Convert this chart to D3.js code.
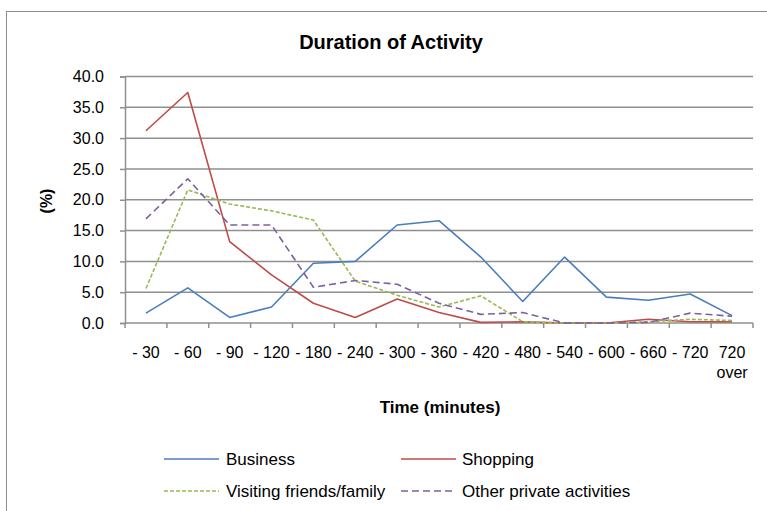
<!DOCTYPE html>
<html>
<head>
<meta charset="utf-8">
<script src="https://cdn.jsdelivr.net/npm/d3@7"></script>
<style>
  html, body { margin: 0; padding: 0; background: #fff; }
  svg { display: block; font-family: "Liberation Sans", Arial, sans-serif; }
</style>
</head>
<body>
<svg id="chart" width="767" height="511"></svg>
<script>
// Duration bands (minutes)
const categories = ["- 30", "- 60", "- 90", "- 120", "- 180", "- 240", "- 300", "- 360", "- 420", "- 480", "- 540", "- 600", "- 660", "- 720", "720\nover"];

// Share of trips (%) in each duration band
const business = [1.6, 5.7, 0.9, 2.6, 9.7, 10.0, 15.9, 16.6, 10.7, 3.5, 10.7, 4.2, 3.7, 4.7, 1.2];
const shopping = [31.2, 37.4, 13.2, 7.8, 3.2, 0.9, 3.9, 1.7, 0.1, 0.2, 0.0, 0.0, 0.6, 0.2, 0.2];
const visiting = [5.6, 21.6, 19.3, 18.2, 16.7, 6.8, 4.5, 2.6, 4.4, 0.2, 0.0, 0.0, 0.2, 0.6, 0.4];
const otherPrivate = [16.9, 23.4, 15.9, 15.9, 5.8, 6.9, 6.3, 3.2, 1.4, 1.7, 0.0, 0.0, 0.1, 1.6, 1.1];

const yTicks = [0, 5, 10, 15, 20, 25, 30, 35, 40];

const seriesList = [
  { name: "Business", values: business, color: "#4a7ebb", dash: null },
  { name: "Shopping", values: shopping, color: "#be4b48", dash: null },
  { name: "Visiting friends/family", values: visiting, color: "#98b954", dash: "4,2" },
  { name: "Other private activities", values: otherPrivate, color: "#7d60a0", dash: "7,4" }
];

const svg = d3.select("#chart");
const plot = { left: 125, right: 753, top: 76.5, bottom: 323 };

// Outer frame
svg.append("rect")
  .attr("x", 6.5).attr("y", 11.5)
  .attr("width", 770).attr("height", 520)
  .attr("fill", "none").attr("stroke", "#8c8c8c").attr("stroke-width", 1);

// Title
svg.append("text")
  .attr("x", 391).attr("y", 49)
  .attr("text-anchor", "middle")
  .attr("font-size", 20).attr("font-weight", "bold")
  .text("Duration of Activity");

const x = d3.scaleBand().domain(categories).range([plot.left, plot.right]);
const y = d3.scaleLinear().domain([0, 40]).range([plot.bottom, plot.top]);

// Horizontal gridlines
svg.append("g").selectAll("line")
  .data(yTicks.filter(d => d > 0))
  .join("line")
  .attr("x1", plot.left).attr("x2", plot.right)
  .attr("y1", d => y(d)).attr("y2", d => y(d))
  .attr("stroke", "#8f8f8f").attr("stroke-width", 1.5);

// Y axis
const yAxis = svg.append("g")
  .attr("transform", `translate(${plot.left},0)`)
  .call(d3.axisLeft(y).tickValues(yTicks).tickFormat(d3.format(".1f")).tickSize(5).tickPadding(16));
yAxis.select(".domain").attr("stroke", "#8f8f8f").attr("stroke-width", 1.5);
yAxis.selectAll(".tick line").attr("stroke", "#8f8f8f").attr("stroke-width", 1.5);
yAxis.selectAll(".tick text")
  .attr("font-size", 16).attr("fill", "#000")
  .attr("font-family", "Liberation Sans, Arial, sans-serif");

// X axis baseline with tick marks at band boundaries
const xAxisG = svg.append("g");
xAxisG.append("line")
  .attr("x1", plot.left).attr("x2", plot.right)
  .attr("y1", plot.bottom).attr("y2", plot.bottom)
  .attr("stroke", "#8f8f8f").attr("stroke-width", 1.5);
const boundaries = categories.map(c => x(c)).concat([plot.right]);
xAxisG.selectAll("line.tk")
  .data(boundaries)
  .join("line")
  .attr("class", "tk")
  .attr("x1", d => d).attr("x2", d => d)
  .attr("y1", plot.bottom).attr("y2", plot.bottom + 5)
  .attr("stroke", "#8f8f8f").attr("stroke-width", 1.5);

// X tick labels (the last band wraps onto two lines)
const xl = xAxisG.selectAll("text.xl")
  .data(categories)
  .join("text")
  .attr("class", "xl")
  .attr("font-size", 16)
  .attr("text-anchor", "middle")
  .attr("x", d => x(d) + x.bandwidth() / 2)
  .attr("y", 358);
xl.each(function (d) {
  const t = d3.select(this);
  d.split("\n").forEach((p, i) => {
    t.append("tspan")
      .attr("x", x(d) + x.bandwidth() / 2)
      .attr("dy", i === 0 ? 0 : 20)
      .text(p);
  });
});

// Axis titles
svg.append("text")
  .attr("x", 440).attr("y", 413)
  .attr("text-anchor", "middle")
  .attr("font-size", 17).attr("font-weight", "bold")
  .text("Time (minutes)");
svg.append("text")
  .attr("transform", "translate(52,201) rotate(-90)")
  .attr("text-anchor", "middle")
  .attr("font-size", 16).attr("font-weight", "bold")
  .text("(%)");

// Series lines
const line = d3.line()
  .x((d, i) => x(categories[i]) + x.bandwidth() / 2)
  .y(d => y(d));
svg.append("g").selectAll("path")
  .data(seriesList)
  .join("path")
  .attr("d", s => line(s.values))
  .attr("fill", "none")
  .attr("stroke", s => s.color)
  .attr("stroke-width", 1.6)
  .attr("stroke-dasharray", s => s.dash)
  .attr("stroke-linejoin", "round");

// Legend
const legendPos = [
  { lx: 164, tx: 226, y: 459 },
  { lx: 401, tx: 462, y: 459 },
  { lx: 164, tx: 226, y: 491 },
  { lx: 401, tx: 462, y: 491 }
];
const lg = svg.append("g").selectAll("g")
  .data(seriesList)
  .join("g");
lg.append("line")
  .attr("x1", (d, i) => legendPos[i].lx)
  .attr("x2", (d, i) => legendPos[i].lx + 55)
  .attr("y1", (d, i) => legendPos[i].y)
  .attr("y2", (d, i) => legendPos[i].y)
  .attr("stroke", d => d.color)
  .attr("stroke-width", 1.6)
  .attr("stroke-dasharray", d => d.dash);
lg.append("text")
  .attr("x", (d, i) => legendPos[i].tx)
  .attr("y", (d, i) => legendPos[i].y + 6)
  .attr("font-size", 17)
  .text(d => d.name);
</script>
</body>
</html>
